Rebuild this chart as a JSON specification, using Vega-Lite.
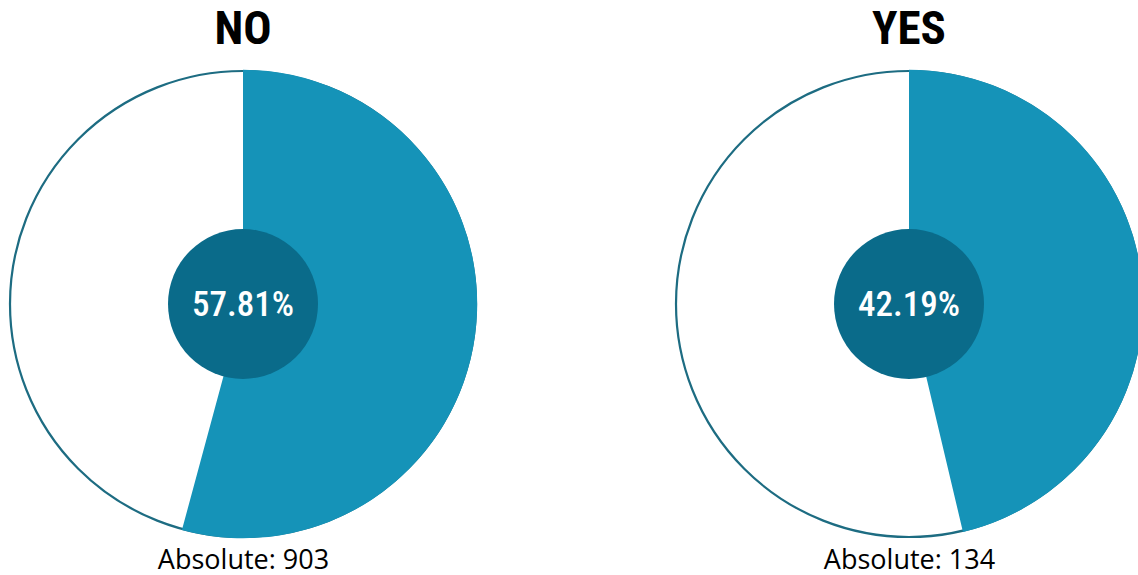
{
  "$schema": "https://vega.github.io/schema/vega-lite/v6.json",
  "padding": {"top": 6, "left": 0, "right": 0, "bottom": 0},
  "background": "white",
  "data": {
    "values": [
      {"answer": "NO", "order": 1, "share": 0.5781, "absolute": 903, "filled_arc": 54.2},
      {"answer": "YES", "order": 2, "share": 0.4219, "absolute": 134, "filled_arc": 46.3}
    ]
  },
  "facet": {
    "column": {
      "field": "answer",
      "type": "nominal",
      "sort": {"field": "order"},
      "header": {
        "title": null,
        "labelFont": "Roboto Condensed, Roboto",
        "labelFontWeight": "bold",
        "labelFontSize": 47,
        "labelColor": "black",
        "labelPadding": 12
      }
    }
  },
  "spacing": 180,
  "spec": {
    "width": 486,
    "height": 466,
    "layer": [
      {
        "mark": {"type": "point", "shape": "circle", "filled": true, "fill": "white", "stroke": "#1d6c82", "strokeWidth": 2.2, "size": 217156, "opacity": 1},
        "encoding": {}
      },
      {
        "mark": {"type": "arc", "radius": 234.2, "color": "#1593b8", "stroke": null},
        "encoding": {
          "theta": {"field": "filled_arc", "type": "quantitative", "scale": {"domain": [0, 100]}}
        }
      },
      {
        "mark": {"type": "point", "shape": "circle", "filled": true, "fill": "#0a6b8a", "strokeWidth": 0, "size": 22500, "opacity": 1},
        "encoding": {}
      },
      {
        "mark": {"type": "text", "color": "white", "font": "Roboto Condensed, Roboto", "fontWeight": 500, "fontSize": 35, "baseline": "middle", "align": "center", "dy": 1},
        "encoding": {
          "text": {"field": "share", "type": "quantitative", "format": ".2%"},
          "x": {
            "field": "absolute",
            "type": "nominal",
            "axis": {
              "title": null,
              "domain": false,
              "ticks": false,
              "labelAngle": 0,
              "labelFont": "Open Sans",
              "labelFontSize": 27,
              "labelColor": "black",
              "labelPadding": 10,
              "labelExpr": "'Absolute: ' + datum.label"
            }
          }
        }
      }
    ],
    "resolve": {"scale": {"x": "independent"}}
  },
  "resolve": {"scale": {"x": "independent"}},
  "config": {"view": {"stroke": null}}
}
